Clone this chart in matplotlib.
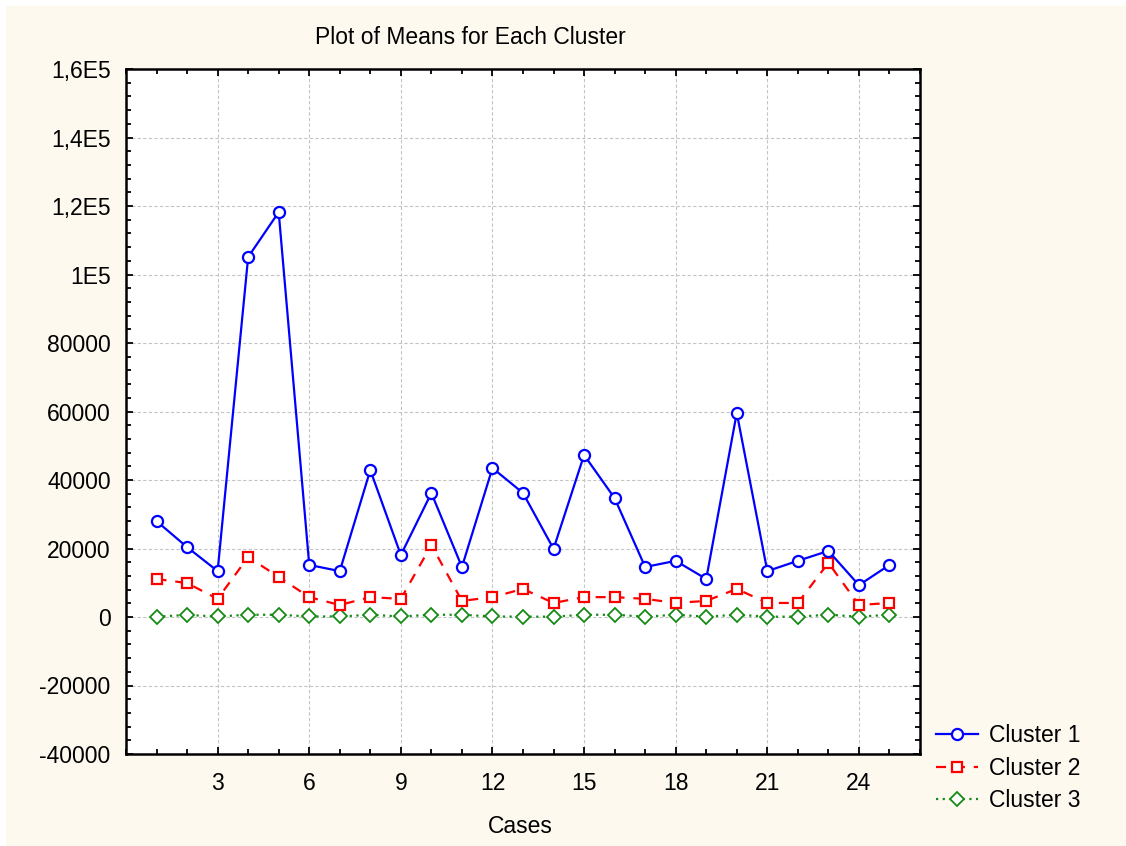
import matplotlib
matplotlib.use("Agg")
import matplotlib.pyplot as plt
from matplotlib.patches import Rectangle
from matplotlib.ticker import MultipleLocator, FixedLocator

plt.rcParams['font.family'] = ['Liberation Sans', 'DejaVu Sans']

cases = list(range(1, 26))
cluster1 = [28000, 20400, 13400, 105100, 118200, 15200, 13400, 42900, 18100, 36200,
            14600, 43500, 36200, 19900, 47300, 34700, 14600, 16400, 11100, 59600,
            13400, 16400, 19300, 9300, 15200]
cluster2 = [11100, 9900, 5300, 17500, 11700, 5800, 3500, 5800, 5300, 21000,
            4700, 5800, 8200, 4100, 5800, 5800, 5300, 4100, 4700, 8200,
            4100, 4100, 15800, 3500, 4100]
cluster3 = [100, 600, 150, 650, 650, 150, 150, 650, 150, 650,
            650, 150, 100, 100, 650, 650, 100, 650, 100, 650,
            100, 100, 650, 100, 650]
series_names = ["Cluster 1", "Cluster 2", "Cluster 3"]
x_ticks = [3, 6, 9, 12, 15, 18, 21, 24]
y_ticks = [-40000, -20000, 0, 20000, 40000, 60000, 80000, 100000, 120000, 140000, 160000]
y_labels = ["-40000", "-20000", "0", "20000", "40000", "60000", "80000", "1E5", "1,2E5", "1,4E5", "1,6E5"]

W, H = 1126, 846
FS = 16.5
fig = plt.figure(figsize=(W / 100, H / 100), dpi=100)
fig.patch.set_facecolor("white")
fig.patches.append(Rectangle((6 / W, 0), 1 - 6 / W, 1 - 6 / H, transform=fig.transFigure,
                             facecolor="#fdf9ef", edgecolor="none", zorder=-10))

ax = fig.add_axes([126 / W, 1 - 754 / H, (920 - 126) / W, (754 - 69) / H])
ax.set_facecolor("white")

ax.plot(cases, cluster1, color="#0000ff", lw=1.6, marker="o", ms=8, mfc="white",
        mec="#0000ff", mew=1.6, label=series_names[0], zorder=5)
ax.plot(cases, cluster2, color="#ff0000", lw=1.6, ls=(0, (4.5, 4)), marker="s", ms=7.5,
        mfc="white", mec="#ff0000", mew=1.6, label=series_names[1], zorder=4)
ax.plot(cases, cluster3, color="#168a16", lw=1.6, ls=(0, (1, 2)), marker="D", ms=7,
        mfc="white", mec="#168a16", mew=1.3, label=series_names[2], zorder=3)

ax.set_xlim(0, 26)
ax.set_ylim(-40000, 160000)
ax.xaxis.set_major_locator(FixedLocator(x_ticks))
ax.xaxis.set_minor_locator(MultipleLocator(1))
ax.yaxis.set_major_locator(FixedLocator(y_ticks))
ax.yaxis.set_minor_locator(MultipleLocator(4000))
ax.set_yticklabels(y_labels)
ax.set_xticklabels([str(t) for t in x_ticks])

ax.tick_params(which="both", direction="in", top=True, right=True, color="black")
ax.tick_params(which="major", length=5, width=1.3, labelsize=FS)
ax.tick_params(which="minor", length=3.5, width=1.3)
ax.tick_params(axis="x", pad=13)
ax.tick_params(axis="y", pad=11)
for s in ax.spines.values():
    s.set_linewidth(1.8)
    s.set_color("black")

ax.grid(True, which="major", color="#c4c4c4", ls=(0, (3, 2)), lw=0.8)
ax.set_axisbelow(True)

fig.text(470 / W, 1 - 38 / H, "Plot of Means for Each Cluster", ha="center", va="center", fontsize=FS)
fig.text(520 / W, 1 - 826 / H, "Cases", ha="center", va="center", fontsize=FS)

handles, labels = ax.get_legend_handles_labels()
leg = fig.legend(handles, labels, loc="upper left", bbox_to_anchor=(936 / W, 1 - 724 / H),
                 frameon=False, fontsize=FS, handlelength=1.83, handletextpad=0.48,
                 labelspacing=0.42, borderaxespad=0, borderpad=0)

fig.savefig("out.png", dpi=100, facecolor=fig.get_facecolor())
